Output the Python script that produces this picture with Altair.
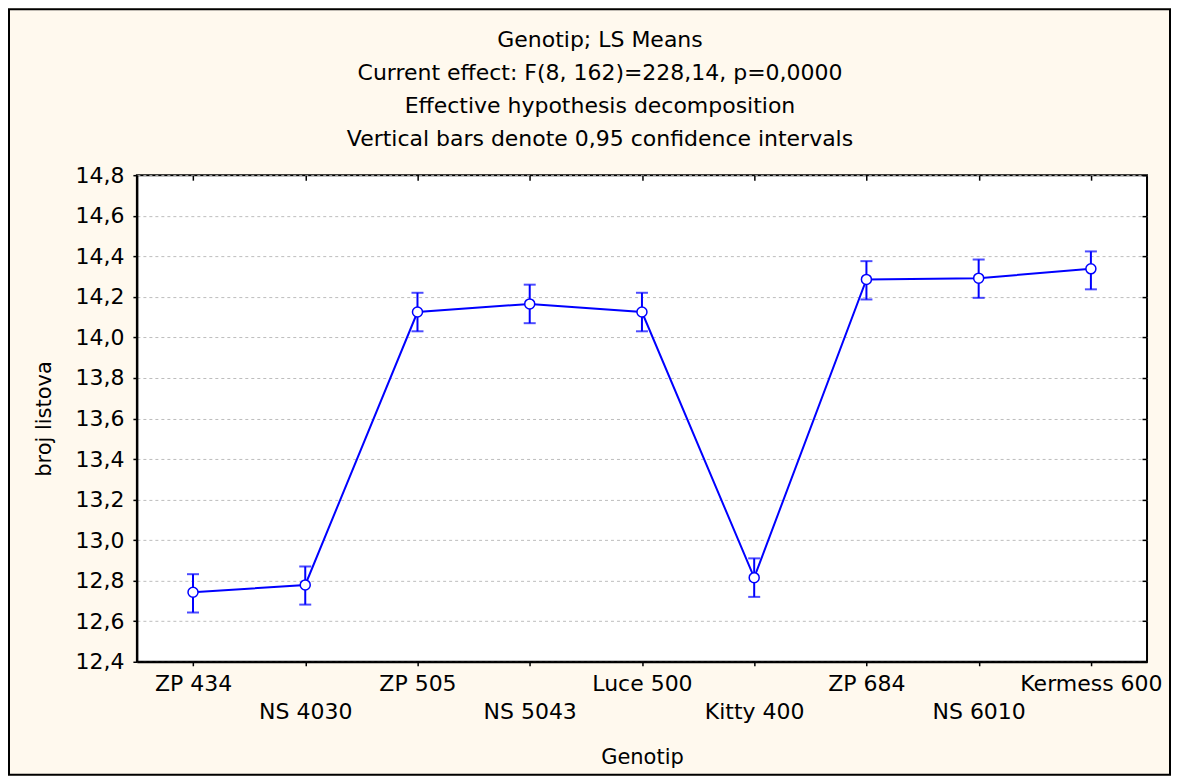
import altair as alt
import pandas as pd

genotip = ["ZP 434", "NS 4030", "ZP 505", "NS 5043", "Luce 500",
           "Kitty 400", "ZP 684", "NS 6010", "Kermess 600"]
means = [12.743, 12.779, 14.125, 14.165, 14.125, 12.815, 14.286, 14.292, 14.338]
lower = [12.643, 12.682, 14.030, 14.070, 14.030, 12.720, 14.187, 14.195, 14.237]
upper = [12.832, 12.870, 14.220, 14.260, 14.220, 12.910, 14.376, 14.384, 14.424]
y_ticks = [12.4, 12.6, 12.8, 13.0, 13.2, 13.4, 13.6, 13.8, 14.0, 14.2, 14.4, 14.6, 14.8]
title_lines = ["Genotip; LS Means",
               "Current effect: F(8, 162)=228,14, p=0,0000",
               "Effective hypothesis decomposition",
               "Vertical bars denote 0,95 confidence intervals"]

df = pd.DataFrame({"Genotip": genotip, "mean": means, "lo": lower, "hi": upper})

FONT = "DejaVu Sans"
BLUE = "#0000FF"

x_enc = alt.X("Genotip:O", sort=genotip, title="Genotip",
              scale=alt.Scale(type="point", padding=0.5),
              axis=alt.Axis(labelAngle=0, labelBaseline="top",
                            labelExpr="round(datum.index*8) % 2 == 1 ? ['', datum.label] : datum.label",
                            labelLineHeight=28, labelPadding=8, tickSize=4,
                            titlePadding=24))
y_scale = alt.Scale(domain=[12.4, 14.8], nice=False, zero=False)
y_axis = alt.Axis(values=y_ticks, labelExpr="replace(format(datum.value, '.1f'), '.', ',')",
                  tickSize=4, labelPadding=9, titlePadding=20)

# inner ticks on the top and right edges
x_top = alt.Axis(orient="top", labels=False, domain=False, grid=False, ticks=True,
                 tickSize=5, offset=-5, title=None)
y_right = alt.Axis(orient="right", values=y_ticks, labels=False, domain=False,
                   grid=False, ticks=True, tickSize=5, offset=-5, title=None)

base = alt.Chart(df)
x_plain = alt.X("Genotip:O", sort=genotip, axis=None)

line = base.mark_line(color=BLUE, strokeWidth=2).encode(
    x=x_enc,
    y=alt.Y("mean:Q", scale=y_scale, axis=y_axis, title="broj listova"),
)
bars = base.mark_rule(color=BLUE, strokeWidth=2).encode(
    x=alt.X("Genotip:O", sort=genotip, axis=x_top),
    y=alt.Y("lo:Q", axis=y_right), y2="hi:Q")
cap_lo = base.mark_tick(color=BLUE, thickness=2, size=12).encode(
    x=x_plain, y=alt.Y("lo:Q", axis=None))
cap_hi = base.mark_tick(color=BLUE, thickness=2, size=12).encode(
    x=x_plain, y=alt.Y("hi:Q", axis=None))
pts = base.mark_point(filled=True, fill="white", stroke=BLUE, strokeWidth=1.5,
                      size=100, opacity=1).encode(
    x=x_plain, y=alt.Y("mean:Q", axis=None))

frame = alt.Chart(alt.Data(values=[{}])).mark_rect(
    fill="transparent", stroke="black", strokeWidth=2).encode(
    x=alt.value(-128), x2=alt.value(1034),
    y=alt.value(-166), y2=alt.value(600))

chart = alt.layer(line, bars, cap_lo, cap_hi, pts, frame).resolve_axis(
    x="independent", y="independent"
).properties(
    width=1011, height=487,
    padding=0,
    background="#FFF9EE",
    title=alt.TitleParams(text=title_lines, font=FONT, fontSize=22,
                          fontWeight="normal", color="black",
                          lineHeight=33, offset=-143, anchor="middle", dx=-42),
).configure_view(
    fill="white", stroke="black", strokeWidth=2
).configure_axis(
    labelFont=FONT, labelFontSize=22, labelColor="black",
    titleFont=FONT, titleFontSize=21, titleFontWeight="normal", titleColor="black",
    domainColor="black", domainWidth=2, tickColor="black", tickWidth=1.5,
    gridColor="#BDBDBD", gridDash=[3, 3], gridWidth=1,
)

chart.save("out.html", embed_options={"renderer": "svg", "actions": False})
